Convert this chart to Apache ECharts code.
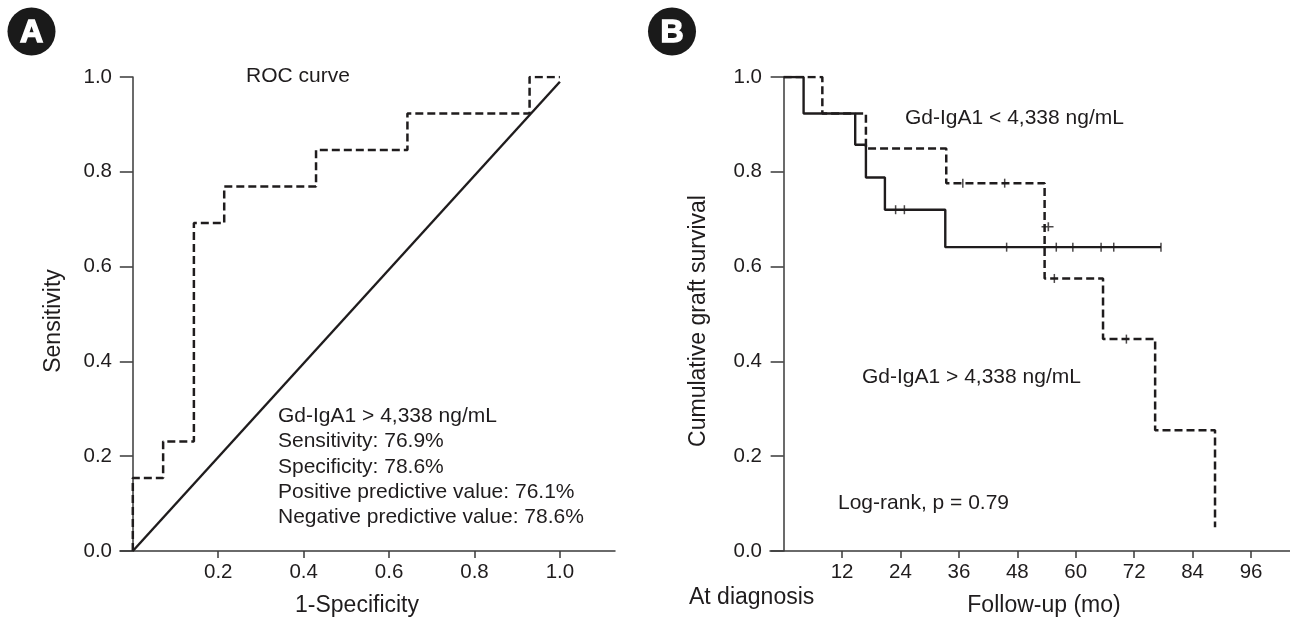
<!DOCTYPE html>
<html>
<head>
<meta charset="utf-8">
<script src="https://cdn.jsdelivr.net/npm/echarts@6/dist/echarts.min.js"></script>
<style>
html,body{margin:0;padding:0;background:#fff;}
#chart{width:1290px;height:620px;}
</style>
</head>
<body>
<div id="chart"></div>
<script>
// ---- Panel A: ROC curve ----
const rocFpr = [0, 0, 0.071, 0.143, 0.214, 0.429, 0.643, 0.929, 1.0];
const rocTpr = [0, 0.154, 0.231, 0.692, 0.769, 0.846, 0.923, 1.0, 1.0];
const refFpr = [0, 1];
const refTpr = [0, 0.99];
const rocXTicks = [0.2, 0.4, 0.6, 0.8, 1.0];
const rocStats = [
  'Gd-IgA1 > 4,338 ng/mL',
  'Sensitivity: 76.9%',
  'Specificity: 78.6%',
  'Positive predictive value: 76.1%',
  'Negative predictive value: 78.6%'
];

// ---- Panel B: Kaplan-Meier curves ----
const lowTimes = [0, 4.1, 14.7, 16.9, 20.8, 33.2, 77.5];
const lowSurv  = [1, 0.923, 0.857, 0.788, 0.72, 0.641, 0.641];
const lowCensorTimes = [23.0, 24.8, 45.8, 56.0, 59.4, 65.2, 67.8, 77.5];
const lowCensorSurv  = [0.72, 0.72, 0.641, 0.641, 0.641, 0.641, 0.641, 0.641];

const highTimes = [0, 7.95, 16.9, 33.4, 53.6, 65.6, 76.3, 88.6];
const highSurv  = [1, 0.923, 0.849, 0.776, 0.575, 0.447, 0.255, 0.05];
const highCensorTimes = [36.8, 45.4, 55.6, 70.4];
const highCensorSurv  = [0.776, 0.776, 0.575, 0.447];
const highCensorDropTime = [54.2];
const highCensorDropSurv = [0.684];

const kmXTicks = [12, 24, 36, 48, 60, 72, 84, 96];

const FONT = 'Arial, "Liberation Sans", Helvetica, sans-serif';
const INK = '#1f1c1d';
const AXIS = '#3a3a3a';

function pairs(xs, ys){ return xs.map((x,i)=>[x, ys[i]]); }

const chart = echarts.init(document.getElementById('chart'), null, {renderer:'canvas'});

function yAxisCfg(gridIndex){
  return {
    type:'value', gridIndex, min:0, max:1, interval:0.2,
    axisLine:{show:true, onZero:true, lineStyle:{color:AXIS, width:1.5}},
    axisTick:{show:true, length:13, lineStyle:{color:AXIS, width:1.5}},
    axisLabel:{fontFamily:FONT, fontSize:20.5, color:INK, margin:8,
      formatter:v=>v.toFixed(1)},
    splitLine:{show:false}
  };
}

const option = {
  backgroundColor:'#fff',
  animation:false,
  grid:[
    {left:120, top:77, width:495, height:474},
    {left:770, top:77, width:520, height:474}
  ],
  xAxis:[
    {type:'value', gridIndex:0, min:-0.03, max:1.129,
      axisLine:{show:true, onZero:false, lineStyle:{color:AXIS, width:1.5}},
      axisTick:{show:true, length:7, customValues:rocXTicks, lineStyle:{color:AXIS, width:1.5}},
      axisLabel:{fontFamily:FONT, fontSize:20.5, color:INK, margin:11, customValues:rocXTicks,
        formatter:v=>v.toFixed(1)},
      splitLine:{show:false}},
    {type:'value', gridIndex:1, min:-2.8, max:104,
      axisLine:{show:true, onZero:false, lineStyle:{color:AXIS, width:1.5}},
      axisTick:{show:true, length:7, customValues:kmXTicks, lineStyle:{color:AXIS, width:1.5}},
      axisLabel:{fontFamily:FONT, fontSize:20.5, color:INK, margin:11, customValues:kmXTicks},
      splitLine:{show:false}}
  ],
  yAxis:[yAxisCfg(0), yAxisCfg(1)],
  series:[
    {type:'line', xAxisIndex:0, yAxisIndex:0, data:pairs(refFpr, refTpr),
      showSymbol:false, lineStyle:{color:INK, width:2.4}, z:3},
    {type:'line', xAxisIndex:0, yAxisIndex:0, data:pairs(rocFpr, rocTpr), step:'end',
      showSymbol:false, lineStyle:{color:INK, width:2.5, type:[8,4]}, z:4},
    {type:'line', xAxisIndex:1, yAxisIndex:1, data:pairs(lowTimes, lowSurv), step:'end',
      showSymbol:false, lineStyle:{color:INK, width:2.4}, z:3},
    {type:'line', xAxisIndex:1, yAxisIndex:1, data:pairs(highTimes, highSurv), step:'end',
      showSymbol:false, lineStyle:{color:INK, width:2.5, type:[8,4]}, z:4},
    {type:'scatter', xAxisIndex:1, yAxisIndex:1, data:pairs(lowCensorTimes, lowCensorSurv),
      symbol:'rect', symbolSize:[1.5,9], itemStyle:{color:INK}, z:5},
    {type:'scatter', xAxisIndex:1, yAxisIndex:1, data:pairs(highCensorTimes, highCensorSurv),
      symbol:'rect', symbolSize:[1.5,9], itemStyle:{color:INK}, z:5},
    {type:'scatter', xAxisIndex:1, yAxisIndex:1, data:pairs(highCensorDropTime, highCensorDropSurv),
      symbol:'path://M0,4.2h12v1.6h-12z M6,0h1.6v10h-1.6z', symbolSize:[12,9], itemStyle:{color:INK}, z:5}
  ],
  graphic:[
    // badges
    {type:'circle', shape:{cx:31.5, cy:31.5, r:24}, style:{fill:'#1a1a1a'}},
    {type:'text', style:{x:31.5, y:33, text:'A', fill:'#fff', stroke:'#fff', lineWidth:1.5,
      font:'bold 32px ' + FONT, textAlign:'center', textVerticalAlign:'middle'}},
    {type:'circle', shape:{cx:672, cy:31.5, r:24}, style:{fill:'#1a1a1a'}},
    {type:'text', style:{x:672, y:33, text:'B', fill:'#fff', stroke:'#fff', lineWidth:1.5,
      font:'bold 32px ' + FONT, textAlign:'center', textVerticalAlign:'middle'}},
    // Panel A texts
    {type:'text', style:{x:298, y:76, text:'ROC curve', fill:INK, font:'21px ' + FONT,
      textAlign:'center', textVerticalAlign:'middle'}},
    {type:'text', style:{x:357, y:606, text:'1-Specificity', fill:INK, font:'23px ' + FONT,
      textAlign:'center', textVerticalAlign:'middle'}},
    {type:'text', rotation:Math.PI/2, x:54, y:321, style:{x:0, y:0, text:'Sensitivity', fill:INK,
      font:'23px ' + FONT, textAlign:'center', textVerticalAlign:'middle'}},
    ...rocStats.map((t,i)=>({type:'text', style:{x:278, y:416 + i*25.4, text:t, fill:INK,
      font:'21px ' + FONT, textAlign:'left', textVerticalAlign:'middle'}})),
    // Panel B texts
    {type:'text', style:{x:905, y:118, text:'Gd-IgA1 < 4,338 ng/mL', fill:INK, font:'21px ' + FONT,
      textAlign:'left', textVerticalAlign:'middle'}},
    {type:'text', style:{x:862, y:377, text:'Gd-IgA1 > 4,338 ng/mL', fill:INK, font:'21px ' + FONT,
      textAlign:'left', textVerticalAlign:'middle'}},
    {type:'text', style:{x:838, y:503, text:'Log-rank, p = 0.79', fill:INK, font:'21px ' + FONT,
      textAlign:'left', textVerticalAlign:'middle'}},
    {type:'text', style:{x:689, y:598, text:'At diagnosis', fill:INK, font:'23px ' + FONT,
      textAlign:'left', textVerticalAlign:'middle'}},
    {type:'text', style:{x:1044, y:606, text:'Follow-up (mo)', fill:INK, font:'23px ' + FONT,
      textAlign:'center', textVerticalAlign:'middle'}},
    {type:'text', rotation:Math.PI/2, x:699, y:321, style:{x:0, y:0, text:'Cumulative graft survival', fill:INK,
      font:'23px ' + FONT, textAlign:'center', textVerticalAlign:'middle'}}
  ]
};
chart.setOption(option);
</script>
</body>
</html>
